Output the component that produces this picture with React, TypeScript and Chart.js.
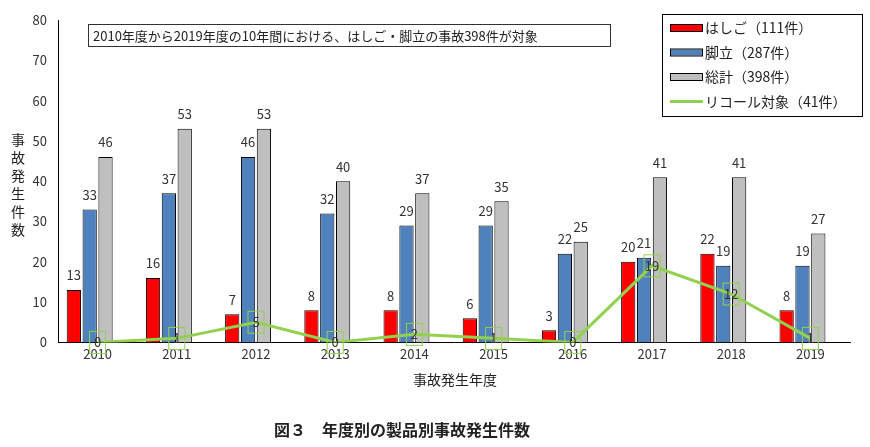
import React, { useEffect, useRef } from "react";
import { Chart, registerables } from "chart.js";
Chart.register(...registerables);

const years = ["2010","2011","2012","2013","2014","2015","2016","2017","2018","2019"];
const hashigo = [13,16,7,8,8,6,3,20,22,8];
const kyatatsu = [33,37,46,32,29,29,22,21,19,19];
const total = [46,53,53,40,37,35,25,41,41,27];
const recall = [0,1,5,0,2,1,0,19,12,1];
const legendLabels = ["はしご（111件）","脚立（287件）","総計（398件）","リコール対象（41件）"];
const FONT = "'Noto Sans CJK JP', 'Noto Sans', sans-serif";

export default function App() {
  const ref = useRef<HTMLCanvasElement>(null);
  useEffect(() => {
    document.body.style.margin = "0";
    const overlay = {
      id: "overlay",
      afterDatasetsDraw(chart: any) {
        const ctx = chart.ctx;
        ctx.save();
        ctx.fillStyle = "#333";
        ctx.font = `13px ${FONT}`;
        ctx.textAlign = "center";
        ctx.textBaseline = "bottom";
        [0, 1, 2].forEach((di) => {
          chart.getDatasetMeta(di).data.forEach((el: any, i: number) => {
            ctx.fillText(String(chart.data.datasets[di].data[i]), el.x, el.y - 8);
          });
        });
        ctx.textBaseline = "middle";
        chart.getDatasetMeta(4).data.forEach((el: any, i: number) => {
          ctx.fillStyle = "#333";
          ctx.fillText(String(recall[i]), el.x, el.y);
          ctx.strokeStyle = "#92d050";
          ctx.lineWidth = 1;
          ctx.strokeRect(el.x - 8, el.y - 11, 16, 22);
        });
        ctx.font = `13px ${FONT}`;
        ctx.textAlign = "left";
        ctx.fillStyle = "#fff";
        ctx.fillRect(88, 24, 522, 22);
        ctx.strokeStyle = "#333";
        ctx.lineWidth = 1;
        ctx.strokeRect(88.5, 24.5, 522, 22);
        ctx.fillStyle = "#222";
        ctx.fillText("2010年度から2019年度の10年間における、はしご・脚立の事故398件が対象", 93, 36);
        ctx.font = `14px ${FONT}`;
        ctx.fillStyle = "#fff";
        ctx.fillRect(662, 14, 200, 102);
        ctx.strokeStyle = "#000";
        ctx.strokeRect(662.5, 14.5, 200, 102);
        const cols = ["#ff0000", "#4f81bd", "#bfbfbf"];
        legendLabels.forEach((t, i) => {
          const y = 28 + i * 24.5;
          if (i < 3) {
            ctx.fillStyle = cols[i];
            ctx.fillRect(670, y - 3, 32, 6);
            ctx.strokeStyle = "#000";
            ctx.lineWidth = 1;
            ctx.strokeRect(670.5, y - 3.5, 32, 7);
          } else {
            ctx.strokeStyle = "#92d050";
            ctx.lineWidth = 3;
            ctx.beginPath(); ctx.moveTo(670, y); ctx.lineTo(703, y); ctx.stroke();
          }
          ctx.fillStyle = "#222";
          ctx.fillText(t, 705, y);
        });
        ctx.textAlign = "center";
        ctx.font = `14px ${FONT}`;
        "事故発生件数".split("").forEach((c, i) => ctx.fillText(c, 18, 140 + i * 18));
        ctx.fillText("事故発生年度", 455, 380);
        ctx.font = `bold 16px ${FONT}`;
        ctx.fillText("図３　年度別の製品別事故発生件数", 402, 430);
        ctx.restore();
      },
    };
    const bar = (label: string, data: number[], color: string) => ({
      type: "bar" as const, label, data, backgroundColor: color,
      borderColor: "#000", borderWidth: 1, order: 2,
    });
    const chart = new Chart(ref.current!, {
      type: "bar",
      data: {
        labels: years,
        datasets: [
          bar("はしご", hashigo, "#ff0000"),
          bar("脚立", kyatatsu, "#4f81bd"),
          bar("総計", total, "#bfbfbf"),
          { type: "bar", label: "", data: years.map(() => null), order: 3 } as any,
          {
            type: "line", label: "リコール対象", data: recall, borderColor: "#92d050",
            borderWidth: 3, pointRadius: 0, order: 1, tension: 0,
          } as any,
        ],
      },
      options: {
        animation: false,
        responsive: false,
        layout: { padding: { top: 20, right: 20, bottom: 81, left: 0 } },
        plugins: { legend: { display: false }, title: { display: false }, tooltip: { enabled: false } },
        scales: {
          x: {
            categoryPercentage: 0.78, barPercentage: 0.94,
            grid: { display: false, drawTicks: false },
            border: { color: "#000" },
            ticks: { color: "#333", font: { size: 13, family: FONT }, padding: 4 },
          },
          y: {
            min: 0, max: 80,
            afterFit: (s: any) => { s.width = 58; },
            grid: { display: false },
            border: { color: "#000" },
            ticks: { stepSize: 10, color: "#333", font: { size: 13, family: FONT } },
          },
        },
      },
      plugins: [overlay],
    });
    return () => chart.destroy();
  }, []);
  return (
    <div style={{ width: 870, height: 447 }}>
      <canvas ref={ref} width={870} height={447} />
    </div>
  );
}
